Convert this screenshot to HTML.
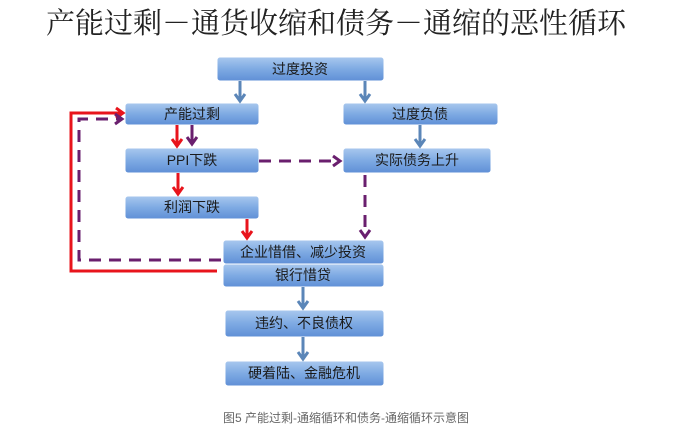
<!DOCTYPE html>
<html><head><meta charset="utf-8"><style>
html,body{margin:0;padding:0;background:#fff;}
svg{display:block;}
.t{font-family:"Liberation Sans","Noto Sans CJK SC",sans-serif;font-size:14px;fill:#1a1a1a;text-anchor:middle;}
</style></head><body>
<svg width="692" height="437" viewBox="0 0 692 437" xmlns="http://www.w3.org/2000/svg">
<defs>
<linearGradient id="g" x1="0" y1="0" x2="0" y2="1">
<stop offset="0" stop-color="#a9c8ee"/><stop offset="0.5" stop-color="#7eaae3"/><stop offset="1" stop-color="#5f8fd6"/>
</linearGradient>
</defs>
<text x="336" y="33" font-family="'Noto Serif CJK SC','Liberation Serif',serif" font-size="29" fill="#222" text-anchor="middle">产能过剩－通货收缩和债务－通缩的恶性循环</text>

<g stroke="#fff" stroke-width="1">
<rect x="217" y="57" width="167" height="24" rx="3" fill="url(#g)"/>
<rect x="125" y="103" width="134" height="22" rx="3" fill="url(#g)"/>
<rect x="343" y="103" width="155" height="22" rx="3" fill="url(#g)"/>
<rect x="125" y="148" width="134" height="25" rx="3" fill="url(#g)"/>
<rect x="343" y="148" width="148" height="25" rx="3" fill="url(#g)"/>
<rect x="125" y="196" width="134" height="23" rx="3" fill="url(#g)"/>
<rect x="223" y="240" width="161" height="24" rx="3" fill="url(#g)"/>
<rect x="223" y="264" width="161" height="23" rx="3" fill="url(#g)"/>
<rect x="225" y="310" width="159" height="27" rx="3" fill="url(#g)"/>
<rect x="225" y="361" width="159" height="25" rx="3" fill="url(#g)"/>
</g>
<text class="t" x="300" y="74">过度投资</text>
<text class="t" x="192" y="119">产能过剩</text>
<text class="t" x="420" y="119">过度负债</text>
<text class="t" x="192" y="165">PPI下跌</text>
<text class="t" x="417" y="165">实际债务上升</text>
<text class="t" x="192" y="212">利润下跌</text>
<text class="t" x="303" y="257">企业惜借、减少投资</text>
<text class="t" x="303" y="280">银行惜贷</text>
<text class="t" x="304" y="328">违约、不良债权</text>
<text class="t" x="304" y="378">硬着陆、金融危机</text>

<g stroke="#5b86b8" stroke-width="3" fill="none">
<line x1="240" y1="81" x2="240" y2="100"/><path d="M235,94 L240,101 L245,94"/>
<line x1="365" y1="81" x2="365" y2="100"/><path d="M360,94 L365,101 L370,94"/>
<line x1="420" y1="125" x2="420" y2="145"/><path d="M415,139 L420,146 L425,139"/>
<line x1="303" y1="287" x2="303" y2="307"/><path d="M298,301 L303,308 L308,301"/>
<line x1="303" y1="337" x2="303" y2="358"/><path d="M298,352 L303,359 L308,352"/>
</g>
<g stroke="#e8141c" stroke-width="3" fill="none">
<line x1="177" y1="125" x2="177" y2="145"/><path d="M172,139 L177,146 L182,139"/>
<line x1="178" y1="173" x2="178" y2="193"/><path d="M173,187 L178,194 L183,187"/>
<line x1="247" y1="219" x2="247" y2="237"/><path d="M242,231 L247,238 L252,231"/>
<polyline points="217,271 71,271 71,113 123,113"/><path d="M116,108 L123,113 L116,118"/>
</g>
<g stroke="#6a1f6e" stroke-width="3" fill="none">
<line x1="192" y1="125" x2="192" y2="143"/><path d="M187,137 L192,144 L197,137"/>
<line x1="259" y1="161" x2="338" y2="161" stroke-dasharray="12,8"/><path d="M333,156 L340,161 L333,166"/>
<line x1="365" y1="175" x2="365" y2="236" stroke-dasharray="12,8"/><path d="M360,230 L365,237 L370,230"/>
<polyline points="221,260 79,260 79,119 121,119" stroke-dasharray="12,8"/><path d="M115,114 L122,119 L115,124"/>
</g>
<text x="346" y="422" font-family="'Liberation Sans','Noto Sans CJK SC',sans-serif" font-size="12" fill="#666" text-anchor="middle">图5 产能过剩-通缩循环和债务-通缩循环示意图</text>
</svg>
</body></html>
